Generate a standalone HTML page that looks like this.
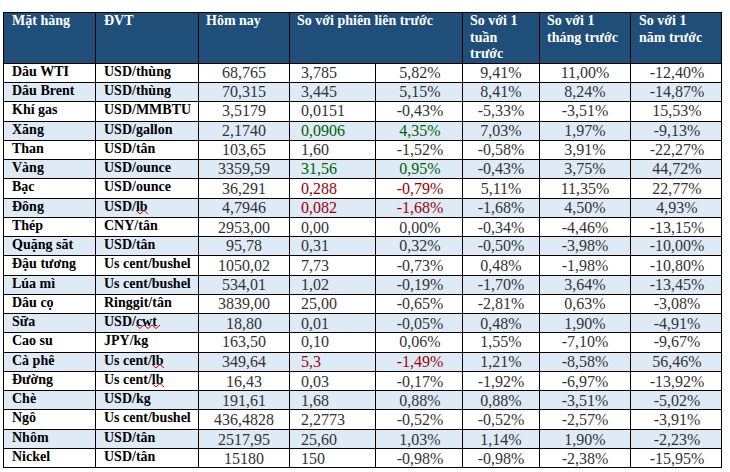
<!DOCTYPE html>
<html><head><meta charset="utf-8"><style>
html,body{margin:0;padding:0;background:#fff;}
body{width:730px;height:472px;position:relative;overflow:hidden;font-family:"Liberation Serif",serif;}
.a{position:absolute;}
.h{background:#000;position:absolute;}
.t{position:absolute;white-space:nowrap;}
.lb{font-weight:bold;font-size:14px;line-height:20px;color:#000;}
.nm{font-size:16px;line-height:20px;color:#333;text-align:center;}
.nl{font-size:16px;line-height:20px;color:#333;}
.hd{font-weight:bold;font-size:14px;line-height:16.7px;color:#fff;}
.g{color:#006100;} .r{color:#9C0006;}
.sq{position:absolute;}
</style></head><body>

<div class="a" style="left:3px;top:12px;width:719px;height:52px;background:#1F4E79"></div>
<div class="a" style="left:3px;top:82px;width:719px;height:19px;background:#DEEAF6"></div>
<div class="a" style="left:3px;top:121px;width:719px;height:19px;background:#DEEAF6"></div>
<div class="a" style="left:3px;top:159px;width:719px;height:19px;background:#DEEAF6"></div>
<div class="a" style="left:3px;top:198px;width:719px;height:19px;background:#DEEAF6"></div>
<div class="a" style="left:3px;top:236px;width:719px;height:19px;background:#DEEAF6"></div>
<div class="a" style="left:3px;top:275px;width:719px;height:19px;background:#DEEAF6"></div>
<div class="a" style="left:3px;top:313px;width:719px;height:19px;background:#DEEAF6"></div>
<div class="a" style="left:3px;top:352px;width:719px;height:19px;background:#DEEAF6"></div>
<div class="a" style="left:3px;top:390px;width:719px;height:19px;background:#DEEAF6"></div>
<div class="a" style="left:3px;top:429px;width:719px;height:19px;background:#DEEAF6"></div>
<div class="h" style="left:3px;top:12px;width:719px;height:1px"></div>
<div class="h" style="left:3px;top:63px;width:719px;height:1px"></div>
<div class="h" style="left:3px;top:82px;width:719px;height:1px"></div>
<div class="h" style="left:3px;top:101px;width:719px;height:1px"></div>
<div class="h" style="left:3px;top:121px;width:719px;height:1px"></div>
<div class="h" style="left:3px;top:140px;width:719px;height:1px"></div>
<div class="h" style="left:3px;top:159px;width:719px;height:1px"></div>
<div class="h" style="left:3px;top:178px;width:719px;height:1px"></div>
<div class="h" style="left:3px;top:198px;width:719px;height:1px"></div>
<div class="h" style="left:3px;top:217px;width:719px;height:1px"></div>
<div class="h" style="left:3px;top:236px;width:719px;height:1px"></div>
<div class="h" style="left:3px;top:255px;width:719px;height:1px"></div>
<div class="h" style="left:3px;top:275px;width:719px;height:1px"></div>
<div class="h" style="left:3px;top:294px;width:719px;height:1px"></div>
<div class="h" style="left:3px;top:313px;width:719px;height:1px"></div>
<div class="h" style="left:3px;top:332px;width:719px;height:1px"></div>
<div class="h" style="left:3px;top:352px;width:719px;height:1px"></div>
<div class="h" style="left:3px;top:371px;width:719px;height:1px"></div>
<div class="h" style="left:3px;top:390px;width:719px;height:1px"></div>
<div class="h" style="left:3px;top:409px;width:719px;height:1px"></div>
<div class="h" style="left:3px;top:429px;width:719px;height:1px"></div>
<div class="h" style="left:3px;top:448px;width:719px;height:1px"></div>
<div class="h" style="left:3px;top:467px;width:719px;height:1px"></div>
<div class="h" style="left:3px;top:12px;width:1px;height:456px"></div>
<div class="h" style="left:95px;top:12px;width:1px;height:456px"></div>
<div class="h" style="left:198px;top:12px;width:1px;height:456px"></div>
<div class="h" style="left:289px;top:12px;width:1px;height:456px"></div>
<div class="h" style="left:375px;top:63px;width:1px;height:405px"></div>
<div class="h" style="left:462px;top:12px;width:1px;height:456px"></div>
<div class="h" style="left:539px;top:12px;width:1px;height:456px"></div>
<div class="h" style="left:630px;top:12px;width:1px;height:456px"></div>
<div class="h" style="left:721px;top:12px;width:1px;height:456px"></div>
<div class="t hd" style="left:12px;top:13px">Mặt hàng</div>
<div class="t hd" style="left:104px;top:13px">ĐVT</div>
<div class="t hd" style="left:206px;top:13px">Hôm nay</div>
<div class="t hd" style="left:297px;top:13px">So với phiên liên trước</div>
<div class="t hd" style="left:470px;top:13px">So với 1<br>tuần<br>trước</div>
<div class="t hd" style="left:547px;top:13px">So với 1<br>tháng trước</div>
<div class="t hd" style="left:639px;top:13px">So với 1<br>năm trước</div>
<div class="t lb" style="left:12px;top:62px">Dâu WTI</div>
<div class="t lb" style="left:104px;top:62px">USD/thùng</div>
<div class="t nm" style="left:199px;top:63px;width:90px">68,765</div>
<div class="t nl" style="left:301px;top:63px">3,785</div>
<div class="t nm" style="left:377px;top:63px;width:86px">5,82%</div>
<div class="t nm" style="left:463px;top:63px;width:76px">9,41%</div>
<div class="t nm" style="left:540px;top:63px;width:90px">11,00%</div>
<div class="t nm" style="left:632px;top:63px;width:90px">-12,40%</div>
<div class="t lb" style="left:12px;top:81px">Dâu Brent</div>
<div class="t lb" style="left:104px;top:81px">USD/thùng</div>
<div class="t nm" style="left:199px;top:82px;width:90px">70,315</div>
<div class="t nl" style="left:301px;top:82px">3,445</div>
<div class="t nm" style="left:377px;top:82px;width:86px">5,15%</div>
<div class="t nm" style="left:463px;top:82px;width:76px">8,41%</div>
<div class="t nm" style="left:540px;top:82px;width:90px">8,24%</div>
<div class="t nm" style="left:632px;top:82px;width:90px">-14,87%</div>
<div class="t lb" style="left:12px;top:100px">Khí gas</div>
<div class="t lb" style="left:104px;top:100px">USD/MMBTU</div>
<div class="t nm" style="left:199px;top:101px;width:90px">3,5179</div>
<div class="t nl" style="left:301px;top:101px">0,0151</div>
<div class="t nm" style="left:377px;top:101px;width:86px">-0,43%</div>
<div class="t nm" style="left:463px;top:101px;width:76px">-5,33%</div>
<div class="t nm" style="left:540px;top:101px;width:90px">-3,51%</div>
<div class="t nm" style="left:632px;top:101px;width:90px">15,53%</div>
<div class="t lb" style="left:12px;top:120px">Xăng</div>
<div class="t lb" style="left:104px;top:120px">USD/gallon</div>
<div class="t nm" style="left:199px;top:121px;width:90px">2,1740</div>
<div class="t nl g" style="left:301px;top:121px">0,0906</div>
<div class="t nm g" style="left:377px;top:121px;width:86px">4,35%</div>
<div class="t nm" style="left:463px;top:121px;width:76px">7,03%</div>
<div class="t nm" style="left:540px;top:121px;width:90px">1,97%</div>
<div class="t nm" style="left:632px;top:121px;width:90px">-9,13%</div>
<div class="t lb" style="left:12px;top:139px">Than</div>
<div class="t lb" style="left:104px;top:139px">USD/tân</div>
<div class="t nm" style="left:199px;top:140px;width:90px">103,65</div>
<div class="t nl" style="left:301px;top:140px">1,60</div>
<div class="t nm" style="left:377px;top:140px;width:86px">-1,52%</div>
<div class="t nm" style="left:463px;top:140px;width:76px">-0,58%</div>
<div class="t nm" style="left:540px;top:140px;width:90px">3,91%</div>
<div class="t nm" style="left:632px;top:140px;width:90px">-22,27%</div>
<div class="t lb" style="left:12px;top:158px">Vàng</div>
<div class="t lb" style="left:104px;top:158px">USD/ounce</div>
<div class="t nm" style="left:199px;top:159px;width:90px">3359,59</div>
<div class="t nl g" style="left:301px;top:159px">31,56</div>
<div class="t nm g" style="left:377px;top:159px;width:86px">0,95%</div>
<div class="t nm" style="left:463px;top:159px;width:76px">-0,43%</div>
<div class="t nm" style="left:540px;top:159px;width:90px">3,75%</div>
<div class="t nm" style="left:632px;top:159px;width:90px">44,72%</div>
<div class="t lb" style="left:12px;top:177px">Bạc</div>
<div class="t lb" style="left:104px;top:177px">USD/ounce</div>
<div class="t nm" style="left:199px;top:179px;width:90px">36,291</div>
<div class="t nl r" style="left:301px;top:179px">0,288</div>
<div class="t nm r" style="left:377px;top:179px;width:86px">-0,79%</div>
<div class="t nm" style="left:463px;top:179px;width:76px">5,11%</div>
<div class="t nm" style="left:540px;top:179px;width:90px">11,35%</div>
<div class="t nm" style="left:632px;top:179px;width:90px">22,77%</div>
<div class="t lb" style="left:12px;top:197px">Đông</div>
<div class="t lb" style="left:104px;top:197px">USD/lb</div>
<div class="t nm" style="left:199px;top:198px;width:90px">4,7946</div>
<div class="t nl r" style="left:301px;top:198px">0,082</div>
<div class="t nm r" style="left:377px;top:198px;width:86px">-1,68%</div>
<div class="t nm" style="left:463px;top:198px;width:76px">-1,68%</div>
<div class="t nm" style="left:540px;top:198px;width:90px">4,50%</div>
<div class="t nm" style="left:632px;top:198px;width:90px">4,93%</div>
<div class="t lb" style="left:12px;top:216px">Thép</div>
<div class="t lb" style="left:104px;top:216px">CNY/tân</div>
<div class="t nm" style="left:199px;top:218px;width:90px">2953,00</div>
<div class="t nl" style="left:301px;top:218px">0,00</div>
<div class="t nm" style="left:377px;top:218px;width:86px">0,00%</div>
<div class="t nm" style="left:463px;top:218px;width:76px">-0,34%</div>
<div class="t nm" style="left:540px;top:218px;width:90px">-4,46%</div>
<div class="t nm" style="left:632px;top:218px;width:90px">-13,15%</div>
<div class="t lb" style="left:12px;top:235px">Quặng săt</div>
<div class="t lb" style="left:104px;top:235px">USD/tân</div>
<div class="t nm" style="left:199px;top:236px;width:90px">95,78</div>
<div class="t nl" style="left:301px;top:236px">0,31</div>
<div class="t nm" style="left:377px;top:236px;width:86px">0,32%</div>
<div class="t nm" style="left:463px;top:236px;width:76px">-0,50%</div>
<div class="t nm" style="left:540px;top:236px;width:90px">-3,98%</div>
<div class="t nm" style="left:632px;top:236px;width:90px">-10,00%</div>
<div class="t lb" style="left:12px;top:254px">Đậu tương</div>
<div class="t lb" style="left:104px;top:254px">Us cent/bushel</div>
<div class="t nm" style="left:199px;top:256px;width:90px">1050,02</div>
<div class="t nl" style="left:301px;top:256px">7,73</div>
<div class="t nm" style="left:377px;top:256px;width:86px">-0,73%</div>
<div class="t nm" style="left:463px;top:256px;width:76px">0,48%</div>
<div class="t nm" style="left:540px;top:256px;width:90px">-1,98%</div>
<div class="t nm" style="left:632px;top:256px;width:90px">-10,80%</div>
<div class="t lb" style="left:12px;top:274px">Lúa mì</div>
<div class="t lb" style="left:104px;top:274px">Us cent/bushel</div>
<div class="t nm" style="left:199px;top:275px;width:90px">534,01</div>
<div class="t nl" style="left:301px;top:275px">1,02</div>
<div class="t nm" style="left:377px;top:275px;width:86px">-0,19%</div>
<div class="t nm" style="left:463px;top:275px;width:76px">-1,70%</div>
<div class="t nm" style="left:540px;top:275px;width:90px">3,64%</div>
<div class="t nm" style="left:632px;top:275px;width:90px">-13,45%</div>
<div class="t lb" style="left:12px;top:293px">Dâu cọ</div>
<div class="t lb" style="left:104px;top:293px">Ringgit/tân</div>
<div class="t nm" style="left:199px;top:294px;width:90px">3839,00</div>
<div class="t nl" style="left:301px;top:294px">25,00</div>
<div class="t nm" style="left:377px;top:294px;width:86px">-0,65%</div>
<div class="t nm" style="left:463px;top:294px;width:76px">-2,81%</div>
<div class="t nm" style="left:540px;top:294px;width:90px">0,63%</div>
<div class="t nm" style="left:632px;top:294px;width:90px">-3,08%</div>
<div class="t lb" style="left:12px;top:312px">Sữa</div>
<div class="t lb" style="left:104px;top:312px">USD/cwt</div>
<div class="t nm" style="left:199px;top:314px;width:90px">18,80</div>
<div class="t nl" style="left:301px;top:314px">0,01</div>
<div class="t nm" style="left:377px;top:314px;width:86px">-0,05%</div>
<div class="t nm" style="left:463px;top:314px;width:76px">0,48%</div>
<div class="t nm" style="left:540px;top:314px;width:90px">1,90%</div>
<div class="t nm" style="left:632px;top:314px;width:90px">-4,91%</div>
<div class="t lb" style="left:12px;top:331px">Cao su</div>
<div class="t lb" style="left:104px;top:331px">JPY/kg</div>
<div class="t nm" style="left:199px;top:332px;width:90px">163,50</div>
<div class="t nl" style="left:301px;top:332px">0,10</div>
<div class="t nm" style="left:377px;top:332px;width:86px">0,06%</div>
<div class="t nm" style="left:463px;top:332px;width:76px">1,55%</div>
<div class="t nm" style="left:540px;top:332px;width:90px">-7,10%</div>
<div class="t nm" style="left:632px;top:332px;width:90px">-9,67%</div>
<div class="t lb" style="left:12px;top:351px">Cà phê</div>
<div class="t lb" style="left:104px;top:351px">Us cent/lb</div>
<div class="t nm" style="left:199px;top:352px;width:90px">349,64</div>
<div class="t nl r" style="left:301px;top:352px">5,3</div>
<div class="t nm r" style="left:377px;top:352px;width:86px">-1,49%</div>
<div class="t nm" style="left:463px;top:352px;width:76px">1,21%</div>
<div class="t nm" style="left:540px;top:352px;width:90px">-8,58%</div>
<div class="t nm" style="left:632px;top:352px;width:90px">56,46%</div>
<div class="t lb" style="left:12px;top:370px">Đường</div>
<div class="t lb" style="left:104px;top:370px">Us cent/lb</div>
<div class="t nm" style="left:199px;top:372px;width:90px">16,43</div>
<div class="t nl" style="left:301px;top:372px">0,03</div>
<div class="t nm" style="left:377px;top:372px;width:86px">-0,17%</div>
<div class="t nm" style="left:463px;top:372px;width:76px">-1,92%</div>
<div class="t nm" style="left:540px;top:372px;width:90px">-6,97%</div>
<div class="t nm" style="left:632px;top:372px;width:90px">-13,92%</div>
<div class="t lb" style="left:12px;top:389px">Chè</div>
<div class="t lb" style="left:104px;top:389px">USD/kg</div>
<div class="t nm" style="left:199px;top:391px;width:90px">191,61</div>
<div class="t nl" style="left:301px;top:391px">1,68</div>
<div class="t nm" style="left:377px;top:391px;width:86px">0,88%</div>
<div class="t nm" style="left:463px;top:391px;width:76px">0,88%</div>
<div class="t nm" style="left:540px;top:391px;width:90px">-3,51%</div>
<div class="t nm" style="left:632px;top:391px;width:90px">-5,02%</div>
<div class="t lb" style="left:12px;top:408px">Ngô</div>
<div class="t lb" style="left:104px;top:408px">Us cent/bushel</div>
<div class="t nm" style="left:199px;top:410px;width:90px">436,4828</div>
<div class="t nl" style="left:301px;top:410px">2,2773</div>
<div class="t nm" style="left:377px;top:410px;width:86px">-0,52%</div>
<div class="t nm" style="left:463px;top:410px;width:76px">-0,52%</div>
<div class="t nm" style="left:540px;top:410px;width:90px">-2,57%</div>
<div class="t nm" style="left:632px;top:410px;width:90px">-3,91%</div>
<div class="t lb" style="left:12px;top:428px">Nhôm</div>
<div class="t lb" style="left:104px;top:428px">USD/tân</div>
<div class="t nm" style="left:199px;top:430px;width:90px">2517,95</div>
<div class="t nl" style="left:301px;top:430px">25,60</div>
<div class="t nm" style="left:377px;top:430px;width:86px">1,03%</div>
<div class="t nm" style="left:463px;top:430px;width:76px">1,14%</div>
<div class="t nm" style="left:540px;top:430px;width:90px">1,90%</div>
<div class="t nm" style="left:632px;top:430px;width:90px">-2,23%</div>
<div class="t lb" style="left:12px;top:447px">Nickel</div>
<div class="t lb" style="left:104px;top:447px">USD/tân</div>
<div class="t nm" style="left:199px;top:449px;width:90px">15180</div>
<div class="t nl" style="left:301px;top:449px">150</div>
<div class="t nm" style="left:377px;top:449px;width:86px">-0,98%</div>
<div class="t nm" style="left:463px;top:449px;width:76px">-0,98%</div>
<div class="t nm" style="left:540px;top:449px;width:90px">-2,38%</div>
<div class="t nm" style="left:632px;top:449px;width:90px">-15,95%</div>
<svg class="a" style="left:0;top:0" width="730" height="472" viewBox="0 0 730 472"><polyline points="136,210.5 140,214 144,210.5 148,214" fill="none" stroke="#e60000" stroke-width="1"/><polyline points="136,325 140,328.5 144,325 148,328.5 152,325 156,328.5 160,325" fill="none" stroke="#e60000" stroke-width="1"/><polyline points="152,364.5 156,368 160,364.5 164,368" fill="none" stroke="#e60000" stroke-width="1"/><polyline points="152,383.5 156,387 160,383.5 164,387" fill="none" stroke="#e60000" stroke-width="1"/></svg>
</body></html>
